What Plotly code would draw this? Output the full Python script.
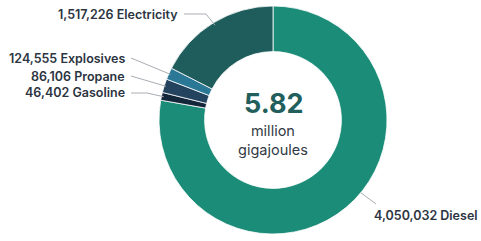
import math
import plotly.graph_objects as go

# ---- data ----
fuels = ["Diesel", "Gasoline", "Propane", "Explosives", "Electricity"]
energy_gj = [4050032, 46402, 86106, 124555, 1517226]
# share of the ring each fuel occupies, as drawn in the picture
arc_share = [0.7778, 0.0111, 0.0194, 0.0167, 0.1750]
total_label = "5.82"
unit_label = "million<br>gigajoules"

colors = ["#1b8c78", "#14263a", "#23435e", "#2a7896", "#1f5c5c"]

# ---- layout constants (pixels) ----
W, H = 481, 241
CX, CY, R = 273, 120, 114
HOLE = 0.6


def px(x):
    return x / W


def py(y):
    return 1 - y / H


# label placements: (text x, text y, anchor, elbow x, radius factor, position within slice)
label_pos = {
    "Electricity": (180, 14, "right", 206, 0.975, 0.5),
    "Explosives": (127, 58, "right", None, 0.985, 0.5),
    "Propane": (127, 76, "right", None, 0.985, 0.5),
    "Gasoline": (127, 93, "right", 147, 0.98, 0.5),
    "Diesel": (372, 215, "left", None, 1.0, 0.463),
}

fig = go.Figure(
    go.Pie(
        labels=fuels,
        values=arc_share,
        customdata=energy_gj,
        sort=False,
        direction="clockwise",
        rotation=0,
        hole=HOLE,
        marker=dict(colors=colors, line=dict(color="white", width=0.8)),
        textinfo="none",
        hoverinfo="label",
        showlegend=False,
        domain=dict(x=[px(CX - R), px(CX + R)], y=[py(CY + R), py(CY - R)]),
    )
)

shapes = []
annotations = []
cum = 0.0
tot = sum(arc_share)
for fuel, share, val in zip(fuels, arc_share, energy_gj):
    tx, ty, anchor, elbow, rf, frac = label_pos[fuel]
    ang = 2 * math.pi * (cum + share * frac) / tot
    cum += share
    ex = CX + R * rf * math.sin(ang)
    ey = CY - R * rf * math.cos(ang)
    if anchor == "right":
        sx = tx + 4
        path = f"M {px(sx)} {py(ty)}"
        if elbow is not None:
            path += f" L {px(elbow)} {py(ty)}"
        path += f" L {px(ex)} {py(ey)}"
    else:
        path = f"M {px(ex)} {py(ey)} L {px(tx + 4)} {py(ty - 11)}"
    shapes.append(dict(type="path", xref="paper", yref="paper", path=path,
                       line=dict(color="#a9adb2", width=1)))
    annotations.append(dict(
        x=px(tx), y=py(ty), xref="paper", yref="paper",
        xanchor=anchor, yanchor="middle", showarrow=False,
        text=f"{val:,} {fuel}",
        font=dict(family="Inter", size=12.5, color="#2c3441", weight=600),
    ))

annotations.append(dict(
    x=px(CX), y=py(103), xref="paper", yref="paper", showarrow=False,
    xanchor="center", yanchor="middle", text=total_label,
    font=dict(family="Inter", size=27, color="#215e5c", weight=700),
))
annotations.append(dict(
    x=px(CX), y=py(140), xref="paper", yref="paper", showarrow=False,
    xanchor="center", yanchor="middle", text=unit_label,
    font=dict(family="Inter", size=14.5, color="#333b45"),
))

fig.update_layout(
    width=W, height=H,
    margin=dict(l=0, r=0, t=0, b=0),
    paper_bgcolor="white", plot_bgcolor="white",
    shapes=shapes, annotations=annotations,
)

fig.write_html("out.html", config={"displayModeBar": False},
               post_script="document.body.style.margin='0';")
